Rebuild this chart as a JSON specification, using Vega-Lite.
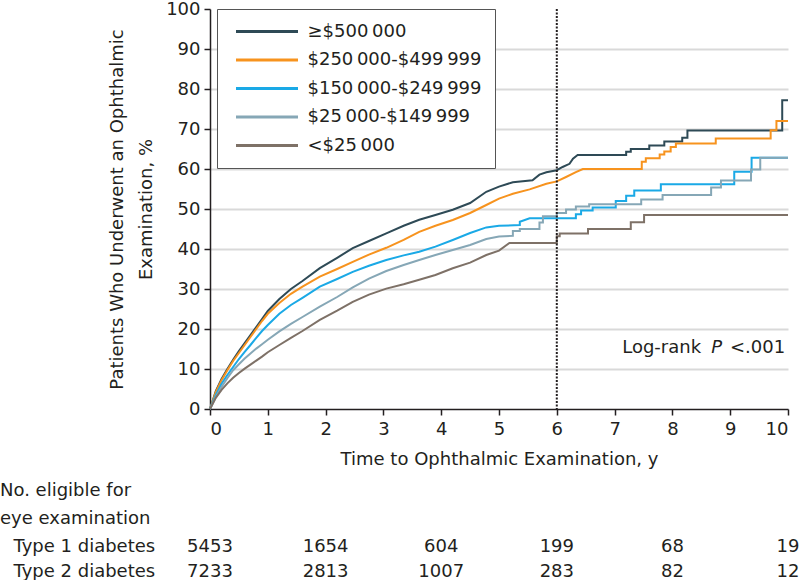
{
  "$schema": "https://vega.github.io/schema/vega-lite/v6.json",
  "padding": 0,
  "background": "white",
  "config": {
    "font": "DejaVu Sans",
    "view": {"stroke": null},
    "axis": {"labelFontSize": 18, "titleFontSize": 18, "labelColor": "#231f20", "titleColor": "#231f20", "titleFontWeight": "normal", "domainColor": "#231f20", "tickColor": "#231f20", "domainWidth": 1.5, "tickWidth": 1.5},
    "concat": {"spacing": 14}
  },
  "datasets": {
    "km": [
      {"g":"≥$500\u2009000","t":0,"p":0},{"g":"≥$500\u2009000","t":0.1,"p":4.5},{"g":"≥$500\u2009000","t":0.2,"p":7.5},{"g":"≥$500\u2009000","t":0.3,"p":10},{"g":"≥$500\u2009000","t":0.4,"p":12.3},{"g":"≥$500\u2009000","t":0.5,"p":14.5},{"g":"≥$500\u2009000","t":0.6,"p":16.5},{"g":"≥$500\u2009000","t":0.7,"p":18.5},{"g":"≥$500\u2009000","t":0.8,"p":20.5},{"g":"≥$500\u2009000","t":0.9,"p":22.5},{"g":"≥$500\u2009000","t":1.0,"p":24.5},{"g":"≥$500\u2009000","t":1.2,"p":27.5},{"g":"≥$500\u2009000","t":1.4,"p":30},{"g":"≥$500\u2009000","t":1.6,"p":32},{"g":"≥$500\u2009000","t":1.9,"p":35.2},{"g":"≥$500\u2009000","t":2.2,"p":37.8},{"g":"≥$500\u2009000","t":2.47,"p":40.2},{"g":"≥$500\u2009000","t":2.75,"p":42},{"g":"≥$500\u2009000","t":3.05,"p":43.9},{"g":"≥$500\u2009000","t":3.35,"p":45.8},{"g":"≥$500\u2009000","t":3.62,"p":47.3},{"g":"≥$500\u2009000","t":3.9,"p":48.5},{"g":"≥$500\u2009000","t":4.2,"p":49.8},{"g":"≥$500\u2009000","t":4.5,"p":51.5},{"g":"≥$500\u2009000","t":4.78,"p":54.3},{"g":"≥$500\u2009000","t":5.0,"p":55.6},{"g":"≥$500\u2009000","t":5.24,"p":56.7},{"g":"≥$500\u2009000","t":5.58,"p":57.2},{"g":"≥$500\u2009000","t":5.7,"p":58.6},{"g":"≥$500\u2009000","t":5.82,"p":59.2},{"g":"≥$500\u2009000","t":6.0,"p":59.7},{"g":"≥$500\u2009000","t":6.1,"p":60.5},{"g":"≥$500\u2009000","t":6.22,"p":61.3},{"g":"≥$500\u2009000","t":6.28,"p":62.6},{"g":"≥$500\u2009000","t":6.36,"p":63.5},{"g":"≥$500\u2009000","t":7.2,"p":63.5},{"g":"≥$500\u2009000","t":7.2,"p":64.3},{"g":"≥$500\u2009000","t":7.28,"p":64.3},{"g":"≥$500\u2009000","t":7.28,"p":65},{"g":"≥$500\u2009000","t":7.6,"p":65},{"g":"≥$500\u2009000","t":7.6,"p":65.9},{"g":"≥$500\u2009000","t":7.86,"p":65.9},{"g":"≥$500\u2009000","t":7.86,"p":66.9},{"g":"≥$500\u2009000","t":8.17,"p":66.9},{"g":"≥$500\u2009000","t":8.17,"p":67.8},{"g":"≥$500\u2009000","t":8.26,"p":67.8},{"g":"≥$500\u2009000","t":8.26,"p":69.6},{"g":"≥$500\u2009000","t":9.9,"p":69.6},{"g":"≥$500\u2009000","t":9.9,"p":77.2},{"g":"≥$500\u2009000","t":10,"p":77.2},
      {"g":"$250\u2009000-$499\u2009999","t":0,"p":0},{"g":"$250\u2009000-$499\u2009999","t":0.1,"p":4.2},{"g":"$250\u2009000-$499\u2009999","t":0.2,"p":7.2},{"g":"$250\u2009000-$499\u2009999","t":0.3,"p":9.7},{"g":"$250\u2009000-$499\u2009999","t":0.4,"p":12},{"g":"$250\u2009000-$499\u2009999","t":0.5,"p":14},{"g":"$250\u2009000-$499\u2009999","t":0.6,"p":16},{"g":"$250\u2009000-$499\u2009999","t":0.7,"p":18},{"g":"$250\u2009000-$499\u2009999","t":0.8,"p":20},{"g":"$250\u2009000-$499\u2009999","t":0.9,"p":22},{"g":"$250\u2009000-$499\u2009999","t":1.0,"p":23.8},{"g":"$250\u2009000-$499\u2009999","t":1.2,"p":26.5},{"g":"$250\u2009000-$499\u2009999","t":1.4,"p":28.8},{"g":"$250\u2009000-$499\u2009999","t":1.6,"p":30.6},{"g":"$250\u2009000-$499\u2009999","t":1.9,"p":33.1},{"g":"$250\u2009000-$499\u2009999","t":2.2,"p":35},{"g":"$250\u2009000-$499\u2009999","t":2.47,"p":36.8},{"g":"$250\u2009000-$499\u2009999","t":2.75,"p":38.6},{"g":"$250\u2009000-$499\u2009999","t":3.05,"p":40.3},{"g":"$250\u2009000-$499\u2009999","t":3.35,"p":42.3},{"g":"$250\u2009000-$499\u2009999","t":3.62,"p":44.3},{"g":"$250\u2009000-$499\u2009999","t":3.9,"p":45.8},{"g":"$250\u2009000-$499\u2009999","t":4.2,"p":47.25},{"g":"$250\u2009000-$499\u2009999","t":4.5,"p":49},{"g":"$250\u2009000-$499\u2009999","t":4.78,"p":51},{"g":"$250\u2009000-$499\u2009999","t":5.0,"p":52.6},{"g":"$250\u2009000-$499\u2009999","t":5.24,"p":53.8},{"g":"$250\u2009000-$499\u2009999","t":5.53,"p":54.9},{"g":"$250\u2009000-$499\u2009999","t":5.82,"p":56.3},{"g":"$250\u2009000-$499\u2009999","t":6.0,"p":56.9},{"g":"$250\u2009000-$499\u2009999","t":6.16,"p":58},{"g":"$250\u2009000-$499\u2009999","t":6.33,"p":59.2},{"g":"$250\u2009000-$499\u2009999","t":6.45,"p":60},{"g":"$250\u2009000-$499\u2009999","t":7.47,"p":60},{"g":"$250\u2009000-$499\u2009999","t":7.47,"p":61.8},{"g":"$250\u2009000-$499\u2009999","t":7.54,"p":61.8},{"g":"$250\u2009000-$499\u2009999","t":7.54,"p":62.7},{"g":"$250\u2009000-$499\u2009999","t":7.78,"p":62.7},{"g":"$250\u2009000-$499\u2009999","t":7.78,"p":63.6},{"g":"$250\u2009000-$499\u2009999","t":7.86,"p":63.6},{"g":"$250\u2009000-$499\u2009999","t":7.86,"p":64.4},{"g":"$250\u2009000-$499\u2009999","t":7.97,"p":64.4},{"g":"$250\u2009000-$499\u2009999","t":7.97,"p":65.5},{"g":"$250\u2009000-$499\u2009999","t":8.06,"p":65.5},{"g":"$250\u2009000-$499\u2009999","t":8.06,"p":66.4},{"g":"$250\u2009000-$499\u2009999","t":8.75,"p":66.4},{"g":"$250\u2009000-$499\u2009999","t":8.75,"p":67.6},{"g":"$250\u2009000-$499\u2009999","t":9.7,"p":67.6},{"g":"$250\u2009000-$499\u2009999","t":9.7,"p":69.7},{"g":"$250\u2009000-$499\u2009999","t":9.8,"p":69.7},{"g":"$250\u2009000-$499\u2009999","t":9.8,"p":72},{"g":"$250\u2009000-$499\u2009999","t":10,"p":72},
      {"g":"$150\u2009000-$249\u2009999","t":0,"p":0},{"g":"$150\u2009000-$249\u2009999","t":0.1,"p":3.5},{"g":"$150\u2009000-$249\u2009999","t":0.2,"p":6.3},{"g":"$150\u2009000-$249\u2009999","t":0.3,"p":8.5},{"g":"$150\u2009000-$249\u2009999","t":0.4,"p":10.5},{"g":"$150\u2009000-$249\u2009999","t":0.5,"p":12.5},{"g":"$150\u2009000-$249\u2009999","t":0.6,"p":14.3},{"g":"$150\u2009000-$249\u2009999","t":0.7,"p":16},{"g":"$150\u2009000-$249\u2009999","t":0.8,"p":17.8},{"g":"$150\u2009000-$249\u2009999","t":0.9,"p":19.5},{"g":"$150\u2009000-$249\u2009999","t":1.0,"p":21},{"g":"$150\u2009000-$249\u2009999","t":1.2,"p":23.8},{"g":"$150\u2009000-$249\u2009999","t":1.4,"p":26},{"g":"$150\u2009000-$249\u2009999","t":1.6,"p":27.8},{"g":"$150\u2009000-$249\u2009999","t":1.9,"p":30.6},{"g":"$150\u2009000-$249\u2009999","t":2.2,"p":32.5},{"g":"$150\u2009000-$249\u2009999","t":2.47,"p":34.3},{"g":"$150\u2009000-$249\u2009999","t":2.75,"p":35.8},{"g":"$150\u2009000-$249\u2009999","t":3.05,"p":37.25},{"g":"$150\u2009000-$249\u2009999","t":3.35,"p":38.4},{"g":"$150\u2009000-$249\u2009999","t":3.62,"p":39.3},{"g":"$150\u2009000-$249\u2009999","t":3.9,"p":40.6},{"g":"$150\u2009000-$249\u2009999","t":4.2,"p":42.25},{"g":"$150\u2009000-$249\u2009999","t":4.5,"p":44},{"g":"$150\u2009000-$249\u2009999","t":4.78,"p":45.4},{"g":"$150\u2009000-$249\u2009999","t":5.0,"p":45.8},{"g":"$150\u2009000-$249\u2009999","t":5.36,"p":46},{"g":"$150\u2009000-$249\u2009999","t":5.36,"p":46.8},{"g":"$150\u2009000-$249\u2009999","t":5.53,"p":47.7},{"g":"$150\u2009000-$249\u2009999","t":6.33,"p":47.7},{"g":"$150\u2009000-$249\u2009999","t":6.33,"p":48.7},{"g":"$150\u2009000-$249\u2009999","t":6.42,"p":48.7},{"g":"$150\u2009000-$249\u2009999","t":6.42,"p":49.6},{"g":"$150\u2009000-$249\u2009999","t":6.62,"p":49.6},{"g":"$150\u2009000-$249\u2009999","t":6.62,"p":50.4},{"g":"$150\u2009000-$249\u2009999","t":7.02,"p":50.4},{"g":"$150\u2009000-$249\u2009999","t":7.02,"p":52},{"g":"$150\u2009000-$249\u2009999","t":7.2,"p":52},{"g":"$150\u2009000-$249\u2009999","t":7.2,"p":53.3},{"g":"$150\u2009000-$249\u2009999","t":7.34,"p":53.3},{"g":"$150\u2009000-$249\u2009999","t":7.34,"p":54.6},{"g":"$150\u2009000-$249\u2009999","t":7.8,"p":54.6},{"g":"$150\u2009000-$249\u2009999","t":7.8,"p":56.2},{"g":"$150\u2009000-$249\u2009999","t":9.07,"p":56.2},{"g":"$150\u2009000-$249\u2009999","t":9.07,"p":59.3},{"g":"$150\u2009000-$249\u2009999","t":9.37,"p":59.3},{"g":"$150\u2009000-$249\u2009999","t":9.37,"p":62.8},{"g":"$150\u2009000-$249\u2009999","t":10,"p":62.8},
      {"g":"$25\u2009000-$149\u2009999","t":0,"p":0},{"g":"$25\u2009000-$149\u2009999","t":0.1,"p":3},{"g":"$25\u2009000-$149\u2009999","t":0.2,"p":5.5},{"g":"$25\u2009000-$149\u2009999","t":0.3,"p":7.7},{"g":"$25\u2009000-$149\u2009999","t":0.4,"p":9.7},{"g":"$25\u2009000-$149\u2009999","t":0.5,"p":11.2},{"g":"$25\u2009000-$149\u2009999","t":0.6,"p":12.6},{"g":"$25\u2009000-$149\u2009999","t":0.7,"p":13.9},{"g":"$25\u2009000-$149\u2009999","t":0.8,"p":15.1},{"g":"$25\u2009000-$149\u2009999","t":0.9,"p":16.2},{"g":"$25\u2009000-$149\u2009999","t":1.0,"p":17.3},{"g":"$25\u2009000-$149\u2009999","t":1.2,"p":19.4},{"g":"$25\u2009000-$149\u2009999","t":1.4,"p":21.3},{"g":"$25\u2009000-$149\u2009999","t":1.6,"p":23},{"g":"$25\u2009000-$149\u2009999","t":1.9,"p":25.6},{"g":"$25\u2009000-$149\u2009999","t":2.2,"p":28},{"g":"$25\u2009000-$149\u2009999","t":2.47,"p":30.4},{"g":"$25\u2009000-$149\u2009999","t":2.75,"p":32.6},{"g":"$25\u2009000-$149\u2009999","t":3.05,"p":34.5},{"g":"$25\u2009000-$149\u2009999","t":3.35,"p":36},{"g":"$25\u2009000-$149\u2009999","t":3.62,"p":37.25},{"g":"$25\u2009000-$149\u2009999","t":3.9,"p":38.5},{"g":"$25\u2009000-$149\u2009999","t":4.2,"p":39.75},{"g":"$25\u2009000-$149\u2009999","t":4.5,"p":41},{"g":"$25\u2009000-$149\u2009999","t":4.78,"p":42.5},{"g":"$25\u2009000-$149\u2009999","t":5.0,"p":43.1},{"g":"$25\u2009000-$149\u2009999","t":5.24,"p":43.3},{"g":"$25\u2009000-$149\u2009999","t":5.24,"p":44.5},{"g":"$25\u2009000-$149\u2009999","t":5.36,"p":44.5},{"g":"$25\u2009000-$149\u2009999","t":5.36,"p":45},{"g":"$25\u2009000-$149\u2009999","t":5.7,"p":45},{"g":"$25\u2009000-$149\u2009999","t":5.7,"p":46.6},{"g":"$25\u2009000-$149\u2009999","t":5.76,"p":46.6},{"g":"$25\u2009000-$149\u2009999","t":5.76,"p":48.2},{"g":"$25\u2009000-$149\u2009999","t":6.0,"p":48.2},{"g":"$25\u2009000-$149\u2009999","t":6.0,"p":49},{"g":"$25\u2009000-$149\u2009999","t":6.16,"p":49},{"g":"$25\u2009000-$149\u2009999","t":6.16,"p":49.9},{"g":"$25\u2009000-$149\u2009999","t":6.33,"p":49.9},{"g":"$25\u2009000-$149\u2009999","t":6.33,"p":50.6},{"g":"$25\u2009000-$149\u2009999","t":6.56,"p":50.6},{"g":"$25\u2009000-$149\u2009999","t":6.56,"p":51.2},{"g":"$25\u2009000-$149\u2009999","t":7.46,"p":51.2},{"g":"$25\u2009000-$149\u2009999","t":7.46,"p":52.4},{"g":"$25\u2009000-$149\u2009999","t":7.83,"p":52.4},{"g":"$25\u2009000-$149\u2009999","t":7.83,"p":53.5},{"g":"$25\u2009000-$149\u2009999","t":8.67,"p":53.5},{"g":"$25\u2009000-$149\u2009999","t":8.67,"p":55.4},{"g":"$25\u2009000-$149\u2009999","t":8.84,"p":55.4},{"g":"$25\u2009000-$149\u2009999","t":8.84,"p":57.1},{"g":"$25\u2009000-$149\u2009999","t":9.36,"p":57.1},{"g":"$25\u2009000-$149\u2009999","t":9.36,"p":59.9},{"g":"$25\u2009000-$149\u2009999","t":9.52,"p":59.9},{"g":"$25\u2009000-$149\u2009999","t":9.52,"p":62.8},{"g":"$25\u2009000-$149\u2009999","t":10,"p":62.8},
      {"g":"<$25\u2009000","t":0,"p":0},{"g":"<$25\u2009000","t":0.1,"p":2.8},{"g":"<$25\u2009000","t":0.2,"p":4.8},{"g":"<$25\u2009000","t":0.3,"p":6.4},{"g":"<$25\u2009000","t":0.4,"p":7.8},{"g":"<$25\u2009000","t":0.5,"p":9},{"g":"<$25\u2009000","t":0.6,"p":10.1},{"g":"<$25\u2009000","t":0.7,"p":11.1},{"g":"<$25\u2009000","t":0.8,"p":12.1},{"g":"<$25\u2009000","t":0.9,"p":13.1},{"g":"<$25\u2009000","t":1.0,"p":14.2},{"g":"<$25\u2009000","t":1.2,"p":16},{"g":"<$25\u2009000","t":1.4,"p":17.8},{"g":"<$25\u2009000","t":1.6,"p":19.5},{"g":"<$25\u2009000","t":1.9,"p":22.3},{"g":"<$25\u2009000","t":2.2,"p":24.6},{"g":"<$25\u2009000","t":2.47,"p":26.8},{"g":"<$25\u2009000","t":2.75,"p":28.6},{"g":"<$25\u2009000","t":3.05,"p":30.1},{"g":"<$25\u2009000","t":3.35,"p":31.2},{"g":"<$25\u2009000","t":3.62,"p":32.3},{"g":"<$25\u2009000","t":3.9,"p":33.5},{"g":"<$25\u2009000","t":4.2,"p":35.2},{"g":"<$25\u2009000","t":4.5,"p":36.6},{"g":"<$25\u2009000","t":4.78,"p":38.5},{"g":"<$25\u2009000","t":5.0,"p":39.6},{"g":"<$25\u2009000","t":5.18,"p":41.5},{"g":"<$25\u2009000","t":6.0,"p":41.5},{"g":"<$25\u2009000","t":6.0,"p":43.2},{"g":"<$25\u2009000","t":6.05,"p":43.2},{"g":"<$25\u2009000","t":6.05,"p":43.9},{"g":"<$25\u2009000","t":6.54,"p":43.9},{"g":"<$25\u2009000","t":6.54,"p":45},{"g":"<$25\u2009000","t":7.28,"p":45},{"g":"<$25\u2009000","t":7.28,"p":46.7},{"g":"<$25\u2009000","t":7.51,"p":46.7},{"g":"<$25\u2009000","t":7.51,"p":48.5},{"g":"<$25\u2009000","t":10,"p":48.5}
    ],
    "table": [
      {"row":"Type 1 diabetes","t":0,"n":"5453"},{"row":"Type 1 diabetes","t":2,"n":"1654"},{"row":"Type 1 diabetes","t":4,"n":"604"},{"row":"Type 1 diabetes","t":6,"n":"199"},{"row":"Type 1 diabetes","t":8,"n":"68"},{"row":"Type 1 diabetes","t":10,"n":"19"},
      {"row":"Type 2 diabetes","t":0,"n":"7233"},{"row":"Type 2 diabetes","t":2,"n":"2813"},{"row":"Type 2 diabetes","t":4,"n":"1007"},{"row":"Type 2 diabetes","t":6,"n":"283"},{"row":"Type 2 diabetes","t":8,"n":"82"},{"row":"Type 2 diabetes","t":10,"n":"12"}
    ]
  },
  "vconcat": [
    {
      "width": 578,
      "height": 400,
      "layer": [
        {
          "data": {"name": "km"},
          "mark": {"type": "line", "strokeWidth": 2, "interpolate": "linear"},
          "encoding": {
            "x": {"field": "t", "type": "quantitative", "scale": {"domain": [0, 10], "nice": false},
                  "axis": {"title": "Time to Ophthalmic Examination, y", "values": [0,1,2,3,4,5,6,7,8,9,10], "tickCount": 30, "format": "d", "labelOverlap": false, "grid": false, "tickSize": 6, "labelPadding": 5, "titlePadding": 12}},
            "y": {"field": "p", "type": "quantitative", "scale": {"domain": [0, 100], "nice": false},
                  "axis": {"title": ["Patients Who Underwent an Ophthalmic", "Examination, %"], "values": [0,10,20,30,40,50,60,70,80,90,100], "tickCount": 30, "format": "d", "labelOverlap": false, "grid": true, "gridWidth": 2,
                           "gridColor": {"condition": {"test": "datum.value == 0 || datum.value == 100", "value": "transparent"}, "value": "#d9d9d9"},
                           "tickSize": 6, "labelPadding": 4, "titlePadding": 10, "titleLineHeight": 29}},
            "color": {"field": "g", "type": "nominal",
                      "scale": {"domain": ["≥$500\u2009000", "$250\u2009000-$499\u2009999", "$150\u2009000-$249\u2009999", "$25\u2009000-$149\u2009999", "<$25\u2009000"],
                                "range": ["#2e4a56", "#f7931e", "#1aa9e6", "#86a7b6", "#7e7167"]},
                      "legend": {"title": null, "orient": "none", "legendX": 7, "legendY": 0, "padding": 13, "symbolOffset": 4.5, "symbolType": "stroke", "symbolSize": 3844, "symbolStrokeWidth": 3, "clipHeight": 19, "rowPadding": 9.5, "labelOffset": 8, "labelFontSize": 18, "labelColor": "#231f20", "labelLimit": 300, "strokeColor": "#555555", "fillColor": "white"}},
            "order": [{"field": "t", "type": "quantitative"}, {"field": "p", "type": "quantitative"}]
          }
        },
        {
          "data": {"values": [{}]},
          "mark": {"type": "rule", "strokeDash": [2, 1.5], "strokeWidth": 2, "color": "#231f20"},
          "encoding": {"x": {"datum": 6, "type": "quantitative",
                             "axis": {"title": "Time to Ophthalmic Examination, y", "values": [0,1,2,3,4,5,6,7,8,9,10], "tickCount": 30, "format": "d", "labelOverlap": false, "grid": false, "tickSize": 6, "labelPadding": 5, "titlePadding": 12}}}
        },
        {
          "data": {"values": [{}]},
          "mark": {"type": "text", "align": "right", "baseline": "middle", "fontSize": 18, "color": "#231f20"},
          "encoding": {"x": {"datum": 9.95, "type": "quantitative"},
                       "y": {"datum": 15.2, "type": "quantitative",
                             "axis": {"title": ["Patients Who Underwent an Ophthalmic", "Examination, %"], "values": [0,10,20,30,40,50,60,70,80,90,100], "tickCount": 30, "format": "d", "labelOverlap": false, "grid": true, "gridWidth": 2,
                                      "gridColor": {"condition": {"test": "datum.value == 0 || datum.value == 100", "value": "transparent"}, "value": "#d9d9d9"},
                                      "tickSize": 6, "labelPadding": 4, "titlePadding": 10, "titleLineHeight": 29}},
                       "text": {"value": "<.001"}}
        },
        {
          "data": {"values": [{}]},
          "mark": {"type": "text", "align": "right", "baseline": "middle", "fontSize": 18, "fontStyle": "italic", "color": "#231f20", "dx": -63},
          "encoding": {"x": {"datum": 9.95, "type": "quantitative"}, "y": {"datum": 15.2, "type": "quantitative"}, "text": {"value": "P"}}
        },
        {
          "data": {"values": [{}]},
          "mark": {"type": "text", "align": "right", "baseline": "middle", "fontSize": 18, "color": "#231f20", "dx": -84},
          "encoding": {"x": {"datum": 9.95, "type": "quantitative"}, "y": {"datum": 15.2, "type": "quantitative"}, "text": {"value": "Log-rank"}}
        }
      ]
    },
    {
      "width": 578,
      "height": 50,
      "title": {"text": ["No. eligible for", "eye examination"], "anchor": "start", "frame": "group", "dx": -210, "offset": 6, "fontSize": 18, "fontWeight": "normal", "color": "#231f20", "lineHeight": 28},
      "data": {"name": "table"},
      "mark": {"type": "text", "fontSize": 18, "color": "#231f20", "baseline": "middle"},
      "encoding": {
        "x": {"field": "t", "type": "quantitative", "scale": {"domain": [0, 10], "nice": false}, "axis": null},
        "y": {"field": "row", "type": "nominal",
              "scale": {"domain": ["Type 1 diabetes", "Type 2 diabetes"], "paddingInner": 0, "paddingOuter": 0},
              "axis": {"title": null, "domain": false, "ticks": false, "labelAlign": "left", "labelPadding": 197, "labelFontSize": 18, "labelLimit": 300}},
        "text": {"field": "n"}
      }
    }
  ]
}
